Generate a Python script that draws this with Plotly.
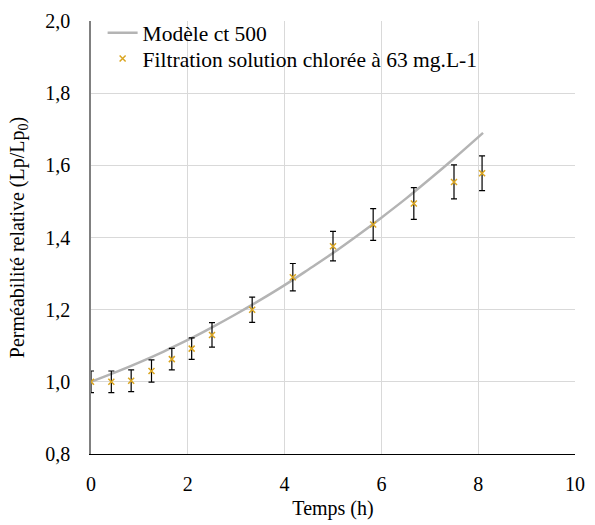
import plotly.graph_objects as go

# Modèle ct 500
t_model = [0, 0.5, 1, 1.5, 2, 2.5, 3, 3.5, 4, 4.5, 5, 5.5, 6, 6.5, 7, 7.5, 8.1]
lp_model = [1.000, 1.026, 1.054, 1.084, 1.116, 1.151, 1.188, 1.227, 1.268, 1.312,
            1.357, 1.405, 1.455, 1.507, 1.562, 1.619, 1.690]

# Filtration solution chlorée à 63 mg.L-1
t_exp = [0, 0.42, 0.83, 1.25, 1.67, 2.08, 2.5, 3.33, 4.17, 5.0, 5.83, 6.67, 7.5, 8.08]
lp_exp = [1.0, 1.0, 1.003, 1.03, 1.063, 1.092, 1.13, 1.20, 1.29, 1.376, 1.436, 1.494, 1.554, 1.578]
lp_err = [0.03, 0.03, 0.03, 0.031, 0.03, 0.03, 0.034, 0.035, 0.038, 0.041, 0.044, 0.044, 0.047, 0.048]

serif = 'Liberation Serif'

fig = go.Figure()
fig.add_trace(go.Scatter(x=t_model, y=lp_model, mode='lines', name='Modèle ct 500', legend='legend',
                         showlegend=True,
                         line=dict(color='#b4b4b4', width=2.5, shape='spline')))
fig.add_trace(go.Scatter(x=t_exp, y=lp_exp, mode='markers', name='Filtration solution chlorée à 63 mg.L-1',
                         legend='legend2', showlegend=True,
                         marker=dict(symbol='x-thin', size=6, line=dict(width=1.5, color='#DAA520')),
                         error_y=dict(type='data', array=lp_err, color='black', thickness=1.2, width=3)))

leg = dict(xanchor='left', yanchor='middle', bgcolor='rgba(0,0,0,0)',
           font=dict(family=serif, size=21.5, color='black'), itemwidth=30)
fig.update_layout(width=595, height=525, template='plotly_white', separators=', ', showlegend=True,
                  font=dict(family=serif, size=20, color='black'),
                  margin=dict(l=91, r=10, t=16, b=70),
                  plot_bgcolor='white', paper_bgcolor='white',
                  legend=dict(leg, x=0.024, y=0.9727),
                  legend2=dict(leg, x=0.024, y=0.9134))
fig.update_xaxes(title_text='Temps (h)', title_font=dict(family=serif, size=20),
                 tickfont=dict(family=serif, size=20), range=[0, 10], dtick=2,
                 gridcolor='#d9d9d9', showline=True, linecolor='black', linewidth=1, zeroline=False,
                 ticks='outside', ticklen=12, tickcolor='rgba(0,0,0,0)', ticklabeloverflow='allow',
                 title_standoff=6)
fig.update_yaxes(title_text='Perméabilité relative (Lp/Lp<sub>0</sub>)', title_font=dict(family=serif, size=20),
                 tickfont=dict(family=serif, size=20), range=[0.8, 2.0], dtick=0.2, tickformat='.1f',
                 gridcolor='#d9d9d9', showline=True, linecolor='#808080', linewidth=1.5, zeroline=False,
                 ticks='outside', ticklen=15, tickcolor='rgba(0,0,0,0)', title_standoff=15)
fig.write_html("out.html", config={'displayModeBar': False},
               post_script="document.body.style.margin='0';")
